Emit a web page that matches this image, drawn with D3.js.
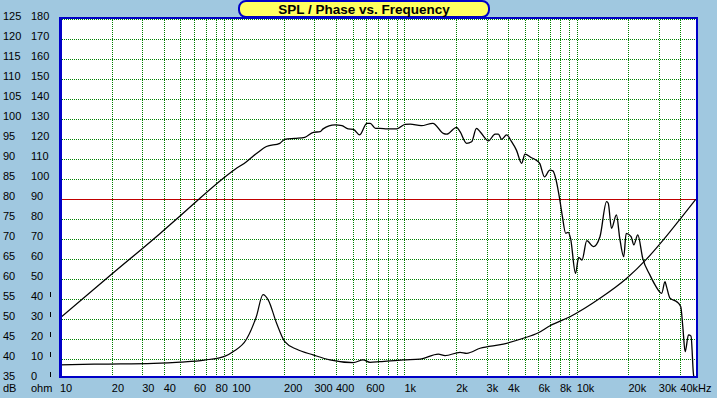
<!DOCTYPE html>
<html>
<head>
<meta charset="utf-8">
<script src="https://cdn.jsdelivr.net/npm/d3@7"></script>
<style>
  body { margin: 0; background: #a0c8e0; }
  svg { display: block; font-family: "Liberation Sans", Arial, sans-serif; }
</style>
</head>
<body>
<svg id="chart" width="717" height="398"></svg>
<script>
// SPL curve (dB, left axis)
const splFreq = [10, 20, 38, 50, 104, 121, 139, 158, 189, 202, 231, 264, 296, 324, 337, 395, 434, 471, 505, 550,
  605, 633, 680, 720, 794, 904, 1010, 1080, 1252, 1462, 1680, 1760, 2008, 2104, 2298, 2457, 2620, 2750, 3075, 3360,
  3510, 3670, 3920, 4190, 4470, 4800, 5010, 5470, 5700, 6100, 6510, 6980, 7280, 7600, 7990, 8270, 8640, 8930, 9220, 9850,
  10280, 10740, 11460, 12500, 13660, 14920, 15260, 15940, 17030, 17800, 18770, 19400, 20720, 21480, 22650, 24200, 26620, 28530, 31170, 32600,
  33200, 34880, 38160, 40240, 41350, 42670, 44620, 46160, 47630, 48100];
const splDb = [50.3, 61.3, 71.4, 75.9, 87.5, 89.4, 91.5, 93.2, 94.0, 95.0, 95.25, 95.5, 96.75, 96.9, 97.6, 98.6, 98.4, 97.6, 97.5, 96.1,
  99, 99, 97.75, 97.75, 97.6, 97.6, 98.75, 98.8, 98.4, 99, 96.5, 96.3, 98, 96.9, 94, 94.4, 97.75, 96.9, 94.6, 96.3,
  96.3, 95, 96.1, 94.4, 92.3, 89, 91.3, 90.4, 90, 89, 85.6, 87.3, 87.1, 84.8, 79.8, 75.65, 71.5, 71.75, 70.25, 61.5,
  65.5, 64.8, 69.65, 68.15, 70.65, 79.4, 79, 72.75, 76.1, 70.25, 65.65, 71.5, 70.65, 68.6, 71.1, 65.25, 61.1, 58.6, 56.5, 59.4,
  58.3, 55.25, 54.4, 53.15, 48.2, 41.9, 46.1, 45.8, 36.5, 35];

// impedance curve (ohm, right axis)
const impFreq = [10, 17, 35, 50, 69, 91, 101, 121, 138, 151, 162, 181, 202, 237, 295, 369, 505, 575, 631, 719,
  985, 1232, 1574, 1722, 2104, 2299, 2750, 3751, 4898, 5997, 7008, 9155, 13670, 19540, 25530, 31880, 39810, 49150];
const impOhm = [7.2, 7.6, 8.0, 8.6, 9.6, 11.6, 13.8, 20, 31.3, 42.3, 39.6, 28, 18.8, 15, 12.2, 9.7, 8.3, 9.7, 8.5, 8.8,
  9.7, 10.1, 12.6, 11.8, 13.5, 13, 15.5, 17.6, 20.5, 23.3, 26.8, 31.3, 40.5, 50.5, 60.2, 69.7, 80, 90];

// axis labels
const dbTicks = [35, 40, 45, 50, 55, 60, 65, 70, 75, 80, 85, 90, 95, 100, 105, 110, 115, 120, 125];
const ohmTicks = [0, 10, 20, 30, 40, 50, 60, 70, 80, 90, 100, 110, 120, 130, 140, 150, 160, 170, 180];
const ohmMarks = [0, 10, 20, 30, 40];
const freqTicks = [10, 20, 30, 40, 60, 80, 100, 200, 300, 400, 600, 1000, 2000, 3000, 4000, 6000, 8000, 10000, 20000, 30000, 40000];
const freqLabels = ["10", "20", "30", "40", "60", "80", "100", "200", "300", "400", "600", "1k", "2k", "3k", "4k", "6k", "8k", "10k", "20k", "30k", "40kHz"];
const refDb = 80;

const svg = d3.select("#chart");
const pl = 60, pr = 697, pt = 18, pb = 377;

const x = d3.scaleLog().domain([10, 50000]).range([pl, pr]);
const y = d3.scaleLinear().domain([35, 125]).range([379.3, 19.3]);
const yo = d3.scaleLinear().domain([0, 180]).range([379.3, 19.3]);

// plot background
svg.append("rect").attr("x", pl).attr("y", pt).attr("width", pr - pl).attr("height", pb - pt).attr("fill", "#fff");

svg.append("defs").append("clipPath").attr("id", "clip")
  .append("rect").attr("x", pl).attr("y", pt).attr("width", pr - pl).attr("height", pb - pt);

const plot = svg.append("g").attr("clip-path", "url(#clip)");

// grid
const vgrid = x.ticks().filter(f => f > 10 && f < 50000);
plot.selectAll(".vg").data(vgrid).enter().append("line")
  .attr("x1", d => Math.round(x(d)) + 0.5).attr("x2", d => Math.round(x(d)) + 0.5)
  .attr("y1", pt).attr("y2", pb)
  .attr("stroke", "#008000").attr("stroke-dasharray", "1,1").attr("shape-rendering", "crispEdges");
plot.selectAll(".hg").data(dbTicks.filter(d => d !== refDb)).enter().append("line")
  .attr("x1", pl).attr("x2", pr)
  .attr("y1", d => Math.round(y(d)) + 0.5).attr("y2", d => Math.round(y(d)) + 0.5)
  .attr("stroke", "#008000").attr("stroke-dasharray", "1,1").attr("shape-rendering", "crispEdges");
plot.append("line")
  .attr("x1", pl).attr("x2", pr)
  .attr("y1", Math.round(y(refDb)) + 0.5).attr("y2", Math.round(y(refDb)) + 0.5)
  .attr("stroke", "#c00000").attr("shape-rendering", "crispEdges");

// curves
const spl = splFreq.map((f, i) => [f, splDb[i]]);
const imp = impFreq.map((f, i) => [f, impOhm[i]]);
plot.append("path").datum(spl)
  .attr("d", d3.line().x(d => x(d[0])).y(d => y(d[1])).curve(d3.curveMonotoneX))
  .attr("fill", "none").attr("stroke", "#000").attr("stroke-width", 1.3);
plot.append("path").datum(imp)
  .attr("d", d3.line().x(d => x(d[0])).y(d => yo(d[1])).curve(d3.curveMonotoneX))
  .attr("fill", "none").attr("stroke", "#000").attr("stroke-width", 1.2);

// frame
const frame = svg.append("g").attr("stroke", "#0000c8").attr("shape-rendering", "crispEdges");
frame.append("line").attr("x1", pl).attr("x2", pl).attr("y1", pt - 1).attr("y2", pb + 1).attr("stroke-width", 3);
frame.append("line").attr("x1", pl).attr("x2", pr + 1).attr("y1", pt).attr("y2", pt).attr("stroke-width", 2);
frame.append("line").attr("x1", pr).attr("x2", pr).attr("y1", pt - 1).attr("y2", pb + 1).attr("stroke-width", 2);
frame.append("line").attr("x1", pl).attr("x2", pr + 1).attr("y1", pb).attr("y2", pb).attr("stroke-width", 2);

// left labels
svg.selectAll(".dbl").data(dbTicks).enter().append("text")
  .attr("x", 3).attr("y", d => y(d) + 0.5).attr("font-size", 11).text(d => d);
svg.selectAll(".ohl").data(ohmTicks).enter().append("text")
  .attr("x", 31).attr("y", d => yo(d) + 0.5).attr("font-size", 11).text(d => d);
svg.selectAll(".ohm").data(ohmMarks).enter().append("line")
  .attr("x1", 50.5).attr("x2", 50.5)
  .attr("y1", d => yo(d) - 7).attr("y2", d => yo(d) - 2)
  .attr("stroke", "#000").attr("shape-rendering", "crispEdges");

// bottom labels
svg.selectAll(".fl").data(freqTicks).enter().append("text")
  .attr("x", d => x(d)).attr("y", 392).attr("font-size", 11)
  .text((d, i) => freqLabels[i]);
svg.append("text").attr("x", 3).attr("y", 392).attr("font-size", 11).text("dB");
svg.append("text").attr("x", 31).attr("y", 392).attr("font-size", 11).text("ohm");

// title
svg.append("rect").attr("x", 239).attr("y", 1).attr("width", 250).attr("height", 16).attr("rx", 7)
  .attr("fill", "#ffff60").attr("stroke", "#0000c8").attr("stroke-width", 2);
svg.append("text").attr("x", 364).attr("y", 14).attr("text-anchor", "middle")
  .attr("font-size", 13.5).attr("font-weight", "bold").text("SPL / Phase vs. Frequency");
</script>
</body>
</html>
